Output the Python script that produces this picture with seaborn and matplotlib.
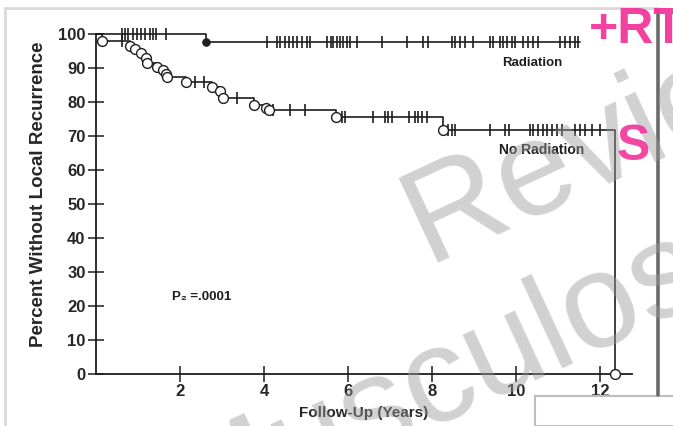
import numpy as np
import matplotlib
matplotlib.use("Agg")
import matplotlib.pyplot as plt
import seaborn as sns
from matplotlib.patches import Rectangle
from matplotlib.lines import Line2D

# ===== values =====
# Radiation arm: step curve (time in years, percent without local recurrence)
rad_times = [0.0, 2.62, 11.52]
rad_levels = [100.0, 97.6, 97.6]
rad_event_t = [2.62]
rad_event_y = [97.6]
rad_censor = [0.61, 0.69, 0.77, 0.89, 0.97, 1.08, 1.16, 1.28, 1.36, 1.44, 1.67,
              4.06, 4.30, 4.38, 4.50, 4.60, 4.70, 4.78, 4.90, 5.02, 5.10,
              5.49, 5.59, 5.65, 5.73, 5.81, 5.89, 5.97, 6.05, 6.21, 6.80,
              7.40, 7.79, 7.91, 8.47, 8.55, 8.67, 8.79, 8.98, 9.38, 9.46,
              9.62, 9.70, 9.78, 9.90, 9.98, 10.17, 10.29, 10.41, 10.53,
              11.05, 11.17, 11.29, 11.40, 11.48]

# No Radiation arm
norad_times = [0.0, 0.14, 0.81, 0.93, 1.07, 1.18, 1.22, 1.46, 1.59, 1.67, 1.70,
               2.14, 2.75, 2.95, 3.02, 3.75, 4.05, 4.12, 5.71, 8.27, 12.36]
norad_levels = [100.0, 98.0, 96.5, 95.5, 94.3, 92.8, 91.6, 90.4, 89.4, 88.2, 87.3,
                86.0, 84.5, 83.3, 81.1, 79.1, 78.3, 77.6, 75.6, 71.8, 0.0]
norad_censor = [0.62, 2.36, 2.57, 3.35, 4.22, 4.62, 4.98,
                5.85, 5.93, 6.60, 6.88, 6.96, 7.04, 7.44, 7.60, 7.67, 7.75, 7.87,
                8.39, 8.47, 8.55, 9.38, 9.74, 9.82, 10.33, 10.41, 10.53, 10.65,
                10.73, 10.85, 10.97, 11.09, 11.40, 11.52, 11.64, 11.80, 12.00]

x_ticks = [2, 4, 6, 8, 10, 12]
y_ticks = [0, 10, 20, 30, 40, 50, 60, 70, 80, 90, 100]


def level_at(times, levels, t):
    idx = np.searchsorted(times, t, side="right") - 1
    return np.asarray(levels)[idx]


sns.set_style("ticks")
plt.rcParams["font.family"] = ["Liberation Sans", "DejaVu Sans"]
ink = "#1e1e1e"

fig = plt.figure(figsize=(6.73, 4.26), dpi=100)
W, H = 673.0, 426.0
ax = fig.add_axes([96 / W, 1 - 374 / H, (632 - 96) / W, (374 - 34) / H])

# step curves
sns.lineplot(x=rad_times, y=rad_levels, drawstyle="steps-post", estimator=None,
             sort=False, color=ink, linewidth=1.2, ax=ax, clip_on=False)
sns.lineplot(x=norad_times, y=norad_levels, drawstyle="steps-post", estimator=None,
             sort=False, color=ink, linewidth=1.2, ax=ax, clip_on=False)

# censoring ticks
sns.scatterplot(x=rad_censor, y=level_at(rad_times, rad_levels, rad_censor),
                marker="|", s=70, color=ink, linewidth=1.2, ax=ax, clip_on=False, zorder=3)
sns.scatterplot(x=norad_censor, y=level_at(norad_times, norad_levels, norad_censor),
                marker="|", s=70, color=ink, linewidth=1.2, ax=ax, clip_on=False, zorder=3)

# events
sns.scatterplot(x=norad_times[1:], y=norad_levels[1:], marker="o", s=50,
                facecolor="white", edgecolor=ink, linewidth=1.0, ax=ax,
                clip_on=False, zorder=4)
sns.scatterplot(x=rad_event_t, y=rad_event_y, marker="o", s=32, color=ink,
                edgecolor=ink, ax=ax, clip_on=False, zorder=4)

ax.set_xlim(0, 12.76)
ax.set_ylim(0, 100)
ax.set_xticks(x_ticks)
ax.set_yticks(y_ticks)
ax.set_xticklabels([str(v) for v in x_ticks], fontweight="bold", fontsize=12)
ax.set_yticklabels([str(v) for v in y_ticks], fontweight="bold", fontsize=12)
ax.tick_params(direction="inout", length=11, width=1.1, color=ink, pad=2)
sns.despine(ax=ax)
for s in ["left", "bottom"]:
    ax.spines[s].set_linewidth(1.3)
    ax.spines[s].set_color(ink)
ax.set_xlabel("Follow-Up (Years)", fontweight="bold", fontsize=11, labelpad=5)
ax.set_ylabel("Percent Without Local Recurrence", fontweight="bold", fontsize=13.5)
ax.yaxis.set_label_coords(-0.091, 0.53)

ax.text(10.38, 91.5, "Radiation", ha="center", va="center", fontsize=9.5,
        fontweight="bold", color=ink)
ax.text(10.62, 65.9, "No Radiation", ha="center", va="center", fontsize=10,
        fontweight="bold", color=ink)
ax.text(1.81, 22.6, "P₂ =.0001", ha="left", va="center", fontsize=9.5,
        fontweight="bold", color=ink)

# page frame / scan artefacts
fig.add_artist(Line2D([5 / W, 5 / W], [0, 1 - 8 / H], transform=fig.transFigure,
                      color="#d9d9d9", linewidth=2))
fig.add_artist(Line2D([5 / W, 658 / W], [1 - 8 / H, 1 - 8 / H], transform=fig.transFigure,
                      color="#d9d9d9", linewidth=2))
fig.add_artist(Line2D([658 / W, 658 / W], [1 - 395 / H, 1 - 10 / H],
                      transform=fig.transFigure, color="#6a6a6a", linewidth=2.6))
fig.add_artist(Rectangle((535 / W, 0), 1, (426 - 396) / H, transform=fig.transFigure,
                         facecolor="white", edgecolor="#bdbdbd", linewidth=1.5))

# watermark
fig.text(427 / W, 1 - 263 / H, "Review", rotation=25, rotation_mode="anchor",
         ha="left", va="baseline", fontsize=98, color="#9a9a9a", alpha=0.45)
fig.text(190 / W, 1 - 536 / H, "Musculoskeletal", rotation=25, rotation_mode="anchor",
         ha="left", va="baseline", fontsize=98, color="#9a9a9a", alpha=0.45)

# pink annotations
fig.text(589 / W, 1 - 43 / H, "+RT", ha="left", va="baseline", fontsize=36,
         fontweight="bold", color="#f2379b", alpha=0.95)
fig.text(617 / W, 1 - 160 / H, "S", ha="left", va="baseline", fontsize=36,
         fontweight="bold", color="#f2379b", alpha=0.92)

fig.savefig("out.png", dpi=100)
